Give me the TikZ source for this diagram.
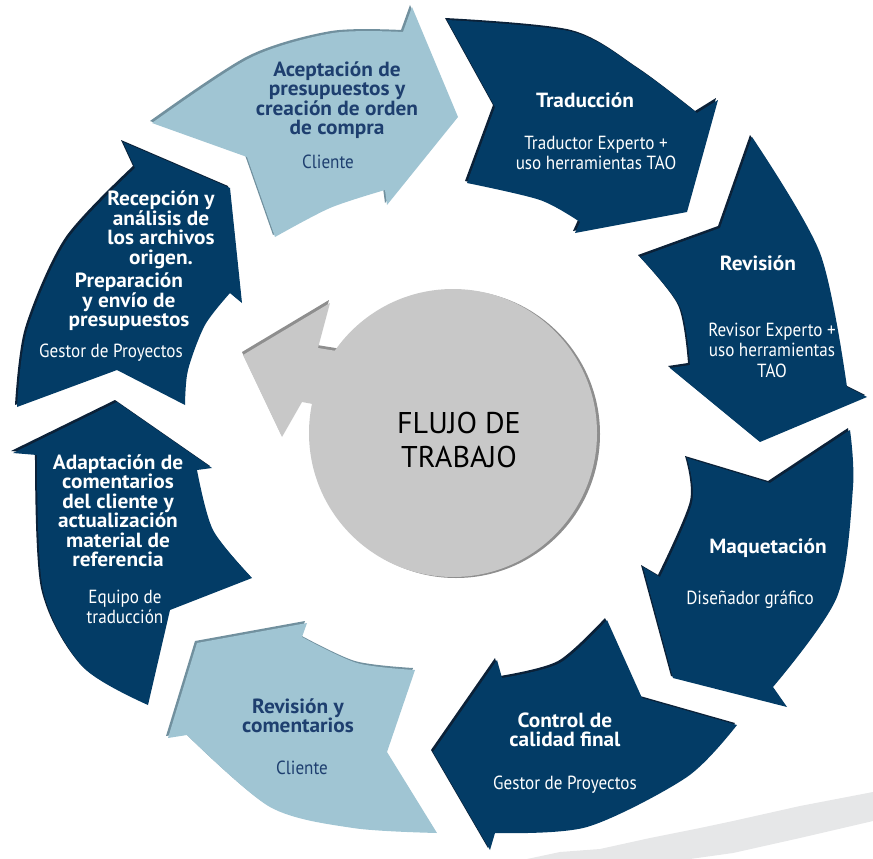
\documentclass[tikz,border=0pt]{standalone}
\usepackage{fontspec}
\setmainfont{PT Sans}
\newfontfamily\titlefont[FakeStretch=1.04]{PT Sans}
\newfontfamily\rolefont[FakeStretch=0.90]{PT Sans}
\usepackage{tikz}

\definecolor{stepnavy}{HTML}{033C66}
\definecolor{navyedge}{HTML}{0B2138}
\definecolor{steplight}{HTML}{A0C5D3}
\definecolor{lightedge}{HTML}{71909E}
\definecolor{lightink}{HTML}{1E3F6F}
\definecolor{hubgray}{HTML}{C8C8C8}
\definecolor{hubrim}{HTML}{8E8E8E}
\definecolor{brushgray}{HTML}{E6E7E8}

% one step of the cycle: edge strip first, then the face
\newcommand{\stepfill}[3]{%
  \fill[#1,shift={(-2,-2)}] #3;
  \fill[#2] #3;}

\tikzset{
  darktitle/.style={align=center,text=white,font=\titlefont\bfseries\fontsize{20.5}{19.5}\selectfont},
  darkrole/.style={align=center,text=white,font=\rolefont\fontsize{19}{20.5}\selectfont},
  lighttitle/.style={darktitle,text=lightink},
  lightrole/.style={darkrole,text=lightink}
}

\begin{document}
\begin{tikzpicture}[x=1pt,y=-1pt]
        \useasboundingbox (0,0) rectangle (873,859);

        % brush stroke, bottom right
        \fill[brushgray] (527,859) -- (560,852) -- (600,849) -- (650,838) -- (700,828) -- (733,821) -- (800,806) -- (873,792) -- (873,821) -- (800,838) -- (733,853) -- (690,859) -- cycle;

        % back arrow behind the hub
        \fill[hubrim,shift={(-1,-3)}] (453,370) -- (318,348) -- (330,303) -- (243,355) -- (282,437) -- (302,402) -- (453,430) -- cycle;
        \fill[hubgray] (453,370) -- (318,348) -- (330,303) -- (243,355) -- (282,437) -- (302,402) -- (453,430) -- cycle;

        % hub
        \fill[hubrim] (456,434) circle (144);
        \node[circle,fill=hubgray,minimum size=288pt,inner sep=0pt] (hub) at (453,433) {};
        \node[align=center,font=\fontsize{30}{34}\selectfont] (hubtext) at (459,440) {FLUJO DE\\TRABAJO};

        % the eight steps, clockwise from the top
        \stepfill{lightedge}{steplight}{(152,123) -- (247,157) -- (275,237) -- plot[smooth] coordinates {(275,237) (330,208) (385,190)} -- (387,205) -- (458,117) -- (412,7) -- (403,32) -- plot[smooth] coordinates {(403,32) (333,33) (250,58) (152,123)} -- cycle}
        \stepfill{navyedge}{stepnavy}{(447,20) -- (495,107) -- (467,183) -- plot[smooth] coordinates {(467,183) (540,200) (580,222)} -- (575,233) -- (687,212) -- (718,100) -- (697,113) -- plot[smooth] coordinates {(697,113) (640,70) (573,32) (447,20)} -- cycle}
        \stepfill{navyedge}{stepnavy}{(752,137) -- (720,228) -- (640,257) -- plot[smooth] coordinates {(640,257) (680,307) (690,365)} -- (670,368) -- (760,442) -- (867,397) -- (847,387) -- plot[smooth] coordinates {(847,387) (820,253) (752,137)} -- cycle}
        \stepfill{navyedge}{stepnavy}{(850,430) -- (770,483) -- (687,458) -- plot[smooth] coordinates {(687,458) (692,503) (660,577)} -- (643,567) -- (673,678) -- (787,707) -- (773,687) -- plot[smooth] coordinates {(773,687) (837,597) (853,487) (850,430)} -- cycle}
        \stepfill{navyedge}{stepnavy}{(737,725) -- (642,698) -- (607,620) -- plot[smooth] coordinates {(607,620) (560,663) (502,678)} -- (497,660) -- (433,752) -- (490,850) -- (495,833) -- plot[smooth] coordinates {(495,833) (587,827) (687,777) (737,725)} -- cycle}
        \stepfill{lightedge}{steplight}{(437,833) -- (387,752) -- (415,670) -- plot[smooth] coordinates {(415,670) (357,663) (302,637)} -- (307,623) -- (197,643) -- (168,738) -- (187,735) -- plot[smooth] coordinates {(187,735) (270,807) (353,828) (437,833)} -- cycle}
        \stepfill{navyedge}{stepnavy}{(148,705) -- (170,610) -- (252,578) -- plot[smooth] coordinates {(252,578) (213,530) (197,470)} -- (212,468) -- (117,402) -- (13,453) -- (37,455) -- plot[smooth] coordinates {(37,455) (43,590) (83,667) (148,705)} -- cycle}
        \stepfill{navyedge}{stepnavy}{(17,407) -- (117,370) -- (185,405) -- plot[smooth] coordinates {(185,405) (188,370) (205,325) (230,293)} -- (242,303) -- (230,188) -- (123,142) -- (135,168) -- plot[smooth] coordinates {(135,168) (67,240) (27,330) (17,407)} -- cycle}

        % labels
        \node[lighttitle] (acepT) at (337,100) {Aceptación de\\presupuestos y\\creación de orden\\de compra};
        \node[lightrole] (acepR) at (328,162) {Cliente};
        \node[darktitle] (tradT) at (585,100) {Traducción};
        \node[darkrole] (tradR) at (596,153) {Traductor Experto +\\uso herramientas TAO};
        \node[darktitle] (reviT) at (758,263) {Revisión};
        \node[darkrole] (reviR) at (772,350) {Revisor Experto +\\uso herramientas\\TAO};
        \node[darktitle] (maqT) at (768,548) {Maquetación};
        \node[darkrole] (maqR) at (750,600) {Diseñador gráfico};
        \node[darktitle] (ctrlT) at (565,730) {Control de\\calidad final};
        \node[darkrole] (ctrlR) at (565,785) {Gestor de Proyectos};
        \node[lighttitle] (comT) at (298,716) {Revisión y\\comentarios};
        \node[lightrole] (comR) at (302,768) {Cliente};
        \node[darktitle] (adapT) at (118,511) {Adaptación de\\comentarios\\del cliente y\\actualización\\material de\\referencia};
        \node[darkrole] (adapR) at (125,607) {Equipo de\\traducción};
        \node[darktitle] (recT) at (161,230) {Recepción y\\análisis de\\los archivos\\origen.};
        \node[darktitle] (prepT) at (129,302) {Preparación\\y envío de\\presupuestos};
        \node[darkrole] (recR) at (111,353) {Gestor de Proyectos};
    \end{tikzpicture}
\end{document}
